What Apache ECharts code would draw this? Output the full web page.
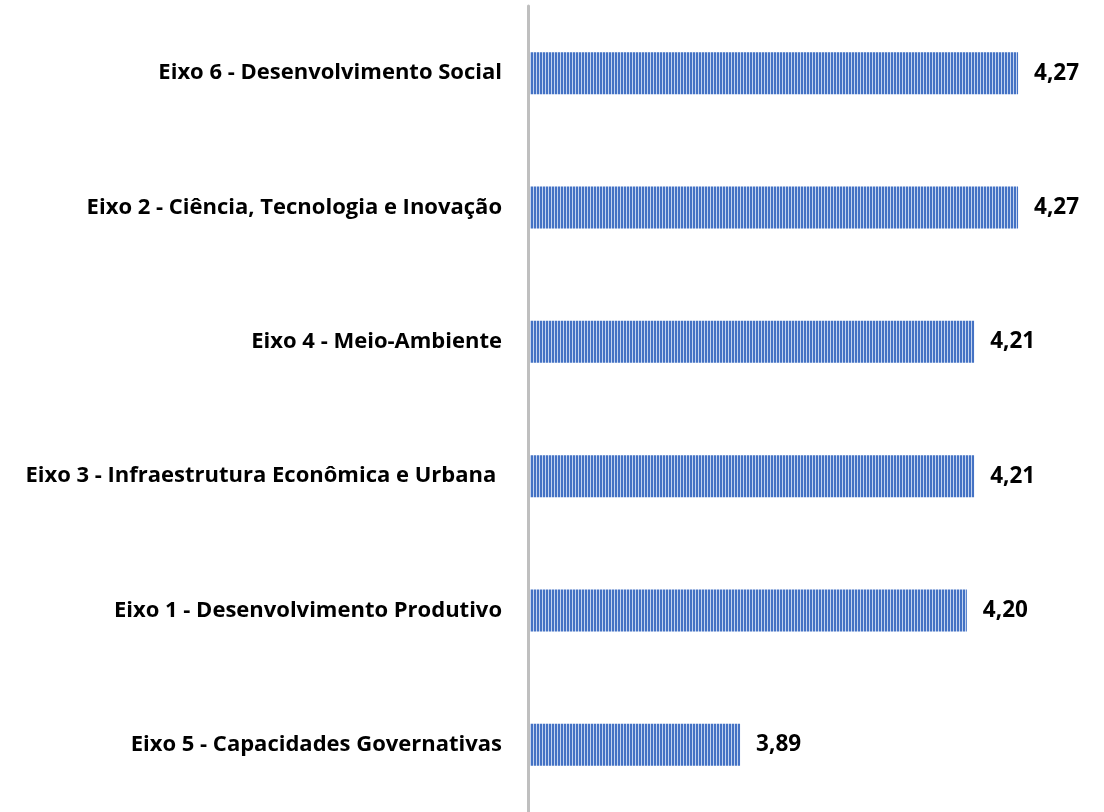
<!DOCTYPE html>
<html>
<head>
<meta charset="utf-8">
<script src="https://cdn.jsdelivr.net/npm/echarts@6/dist/echarts.min.js"></script>
<style>
  html, body { margin: 0; padding: 0; background: #ffffff; }
  #chart { width: 1104px; height: 812px; }
</style>
</head>
<body>
<div id="chart"></div>
<script>
// Average score per axis (top to bottom)
const categories = [
  'Eixo 6 - Desenvolvimento Social',
  'Eixo 2 - Ciência, Tecnologia e Inovação',
  'Eixo 4 - Meio-Ambiente',
  'Eixo 3 - Infraestrutura Econômica e Urbana ',
  'Eixo 1 - Desenvolvimento Produtivo',
  'Eixo 5 - Capacidades Governativas'
];
const scores = [4.27, 4.27, 4.21, 4.21, 4.20, 3.89];

// Vertical stripe fill for the bars
function stripePattern() {
  const c = document.createElement('canvas');
  c.width = 3; c.height = 4;
  const ctx = c.getContext('2d');
  ctx.fillStyle = '#4472C4';
  ctx.fillRect(0, 0, 2, 4);
  ctx.fillStyle = '#C3D3EF';
  ctx.fillRect(2, 0, 1, 4);
  return c;
}

const chart = echarts.init(document.getElementById('chart'), null, { renderer: 'canvas' });
const font = '"Open Sans", Lato, sans-serif';

chart.setOption({
  backgroundColor: '#ffffff',
  animation: false,
  grid: { left: 528, top: 6, height: 811, width: 512, containLabel: false },
  xAxis: {
    type: 'value',
    min: 3.6,
    max: 4.3,
    show: false
  },
  yAxis: {
    type: 'category',
    data: categories,
    inverse: true,
    z: 3,
    axisLine: { show: true, lineStyle: { color: '#BFBFBF', width: 3 } },
    axisTick: { show: false },
    axisLabel: {
      margin: 26,
      color: '#000000',
      fontFamily: font,
      fontWeight: 'bold',
      fontSize: 22
    },
    splitLine: { show: false }
  },
  series: [{
    type: 'bar',
    data: scores,
    barWidth: 42,
    itemStyle: {
      color: { image: stripePattern(), repeat: 'repeat' }
    },
    label: {
      show: true,
      position: 'right',
      distance: 16,
      color: '#000000',
      fontFamily: font,
      fontWeight: 'bold',
      fontSize: 22.5,
      formatter: p => p.value.toFixed(2).replace('.', ',')
    }
  }]
});
</script>
</body>
</html>
